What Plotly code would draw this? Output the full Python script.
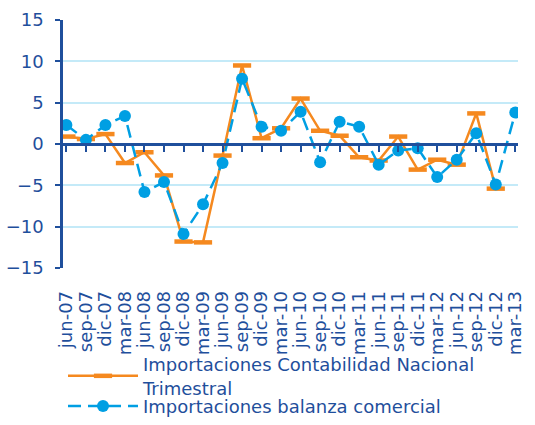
import plotly.graph_objects as go

categories = ["jun-07", "sep-07", "dic-07", "mar-08", "jun-08", "sep-08", "dic-08", "mar-09",
              "jun-09", "sep-09", "dic-09", "mar-10", "jun-10", "sep-10", "dic-10", "mar-11",
              "jun-11", "sep-11", "dic-11", "mar-12", "jun-12", "sep-12", "dic-12", "mar-13"]

cnt_values = [0.9, 0.6, 1.2, -2.3, -1.0, -3.8, -11.8, -11.9,
              -1.4, 9.5, 0.7, 1.9, 5.5, 1.6, 1.0, -1.6,
              -2.0, 0.9, -3.1, -1.9, -2.5, 3.7, -5.4, None]

bc_values = [2.3, 0.5, 2.3, 3.4, -5.8, -4.6, -10.9, -7.3,
             -2.3, 7.9, 2.1, 1.6, 3.9, -2.2, 2.7, 2.1,
             -2.5, -0.8, -0.5, -4.0, -1.9, 1.3, -4.9, 3.8]

y_ticks = [-15, -10, -5, 0, 5, 10, 15]

name_cnt = "Importaciones Contabilidad Nacional<br>Trimestral"
name_bc = "Importaciones balanza comercial"

ORANGE = "#f5891f"
BLUE = "#009fe3"
DARK = "#1f4f9c"
GRID = "#c4eaf8"
FONT = "DejaVu Sans"

fig = go.Figure()
fig.add_trace(go.Scatter(
    x=categories, y=cnt_values, name=name_cnt, mode="lines+markers",
    line=dict(color=ORANGE, width=2.5),
    marker=dict(symbol="line-ew", size=13, color=ORANGE, line=dict(color=ORANGE, width=4.5)),
    connectgaps=False, legend="legend",
))
fig.add_trace(go.Scatter(
    x=categories, y=bc_values, name=name_bc, mode="lines+markers",
    line=dict(color=BLUE, width=2.5, dash="13px,7px"),
    marker=dict(symbol="circle", size=12, color=BLUE),
    legend="legend2",
))

legend_style = dict(
    xanchor="left", yanchor="top",
    font=dict(family=FONT, size=18, color=DARK),
    itemwidth=70, bgcolor="rgba(0,0,0,0)",
)

fig.update_layout(
    width=535, height=425,
    margin=dict(l=11, r=6, t=2, b=157, autoexpand=False),
    paper_bgcolor="white", plot_bgcolor="rgba(0,0,0,0)",
    font=dict(family=FONT, size=18, color=DARK),
    showlegend=True,
    legend=dict(x=0.1004, y=-0.293, **legend_style),
    legend2=dict(x=0.1004, y=-0.450, **legend_style),
    xaxis=dict(
        type="category",
        domain=[0.1004, 0.9788],
        range=[-0.174, 23.14],
        tickmode="array", tickvals=categories, ticktext=categories,
        anchor="free", position=0.4662,
        showline=True, linecolor=DARK, linewidth=2.5,
        ticks="outside", ticklen=6, tickwidth=2, tickcolor=DARK,
        tickangle=-90, ticklabelstandoff=132,
        tickfont=dict(family=FONT, size=18, color=DARK),
        showgrid=False, zeroline=False, automargin=False,
    ),
    yaxis=dict(
        domain=[0, 0.9323],
        range=[-15, 15], tickvals=y_ticks,
        showline=True, linecolor=DARK, linewidth=2.5,
        ticks="outside", ticklen=5, tickwidth=2, tickcolor=DARK,
        showgrid=True, gridcolor=GRID, gridwidth=2,
        zeroline=False,
        tickfont=dict(family=FONT, size=18, color=DARK),
        ticklabelstandoff=8, automargin=False,
    ),
    xaxis2=dict(
        domain=[0, 1], range=[0, 1], anchor="y2", side="top",
        showline=True, linecolor="black", linewidth=3,
        showticklabels=False, ticks="", showgrid=False, zeroline=False,
        fixedrange=True, automargin=False,
    ),
    yaxis2=dict(
        domain=[0, 1], range=[0, 1], anchor="x2",
        showline=False, showticklabels=False, ticks="", showgrid=False,
        zeroline=False, fixedrange=True, automargin=False,
    ),
)

fig.write_html("out.html", config={"displayModeBar": False},
               post_script="document.body.style.margin='0px';")
